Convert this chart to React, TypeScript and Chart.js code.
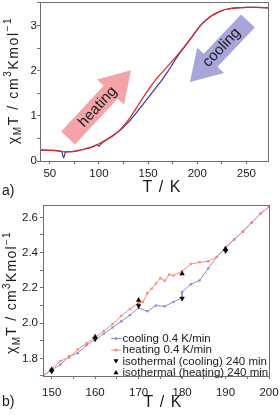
import React, { useEffect, useRef } from "react";
import { Chart, registerables } from "chart.js";

Chart.register(...registerables);

const FONT = '"Liberation Sans", Arial, Helvetica, sans-serif';
const TEXT = "#1a1a1a";
const AXIS = "#707070";
const TICK_SIZE = 11.5;

// ---------- Panel a) : full temperature range ----------
const aHeatT = [40, 45, 50, 55, 60, 63, 65, 70, 75, 80, 85, 90, 95, 100, 105, 110, 115, 120, 125, 130, 135, 140, 145, 150, 155, 160, 165, 170, 175, 180, 185, 190, 195, 200, 205, 210, 215, 220, 225, 230, 240, 250, 260, 272];
const aHeatV = [0.24, 0.24, 0.235, 0.23, 0.22, 0.21, 0.2, 0.205, 0.215, 0.235, 0.26, 0.29, 0.33, 0.38, 0.44, 0.51, 0.58, 0.66, 0.78, 0.91, 1.07, 1.24, 1.41, 1.57, 1.72, 1.86, 1.98, 2.1, 2.22, 2.35, 2.48, 2.62, 2.76, 2.91, 3.04, 3.14, 3.22, 3.28, 3.33, 3.36, 3.39, 3.4, 3.4, 3.39];
const aCoolT = [40, 45, 50, 55, 60, 62, 64, 66, 70, 75, 80, 85, 90, 95, 98, 100, 102, 105, 110, 115, 120, 125, 130, 135, 140, 145, 150, 155, 160, 165, 170, 175, 180, 185, 190, 195, 200, 205, 210, 215, 220, 225, 230, 240, 250, 260, 272];
const aCoolV = [0.24, 0.24, 0.235, 0.235, 0.22, 0.21, 0.07, 0.2, 0.205, 0.215, 0.235, 0.26, 0.29, 0.33, 0.36, 0.33, 0.38, 0.43, 0.5, 0.57, 0.65, 0.75, 0.86, 0.99, 1.12, 1.26, 1.4, 1.54, 1.68, 1.82, 1.98, 2.15, 2.32, 2.47, 2.61, 2.76, 2.91, 3.04, 3.14, 3.22, 3.28, 3.33, 3.36, 3.39, 3.4, 3.4, 3.39];
const aXLabels = [50, 100, 150, 200, 250];
const aYLabels = [0, 1, 2, 3];

// arrow annotations (data coordinates)
const aArrows = [
  { text: "heating", from: [68.5, 0.51], to: [132.6, 2.01], label: [98.7, 1.2], color: "#f4a4a7" },
  { text: "cooling", from: [251.6, 3.1], to: [192.6, 1.75], label: [224.8, 2.51], color: "#a6a6db" },
];

// ---------- Panel b) : zoom 148-200 K ----------
const bCoolT = [200, 198, 196, 194, 192, 190, 188, 186, 184, 182, 180, 180, 178, 176, 174, 172, 170, 168, 166, 164, 162, 160, 158, 156, 154, 152, 150, 148];
const bCoolV = [2.66, 2.62, 2.57, 2.52, 2.475, 2.43, 2.375, 2.31, 2.242, 2.22, 2.177, 2.143, 2.12, 2.095, 2.1, 2.067, 2.086, 2.045, 2.01, 1.975, 1.94, 1.905, 1.875, 1.83, 1.812, 1.765, 1.734, 1.7];
const bHeatT = [148, 150, 152, 154, 156, 158, 160, 162, 164, 166, 168, 170, 171, 172, 173, 174, 175, 176, 177, 178, 180, 182, 184, 186, 188, 190, 192, 194, 196, 198, 200];
const bHeatV = [1.7, 1.74, 1.785, 1.805, 1.85, 1.885, 1.92, 1.955, 1.995, 2.04, 2.08, 2.115, 2.12, 2.17, 2.195, 2.225, 2.255, 2.24, 2.275, 2.27, 2.295, 2.335, 2.345, 2.35, 2.375, 2.425, 2.475, 2.52, 2.57, 2.62, 2.66];
const bIsoT = [150, 160, 170, 180, 190];
const bIsoCoolV = [1.727, 1.91, 2.1, 2.14, 2.41];
const bIsoHeatV = [1.737, 1.922, 2.13, 2.28, 2.42];
const bXLabels = [150, 160, 170, 180, 190, 200];
const bYLabels = [1.8, 2.0, 2.2, 2.4, 2.6];
const bLegend = ["cooling 0.4 K/min", "heating 0.4 K/min", "isothermal (cooling) 240 min", "isothermal (heating) 240 min"];

const COOL_A = "#3535ad";
const HEAT_A = "#e2251d";
const COOL_B = "#958bd0";
const HEAT_B = "#f58b7b";

type Part = { t: string; k?: "sub" | "sup" };
const yTitle: Part[] = [
  { t: "χ" },
  { t: "M", k: "sub" },
  { t: "T / cm" },
  { t: "3", k: "sup" },
  { t: "Kmol" },
  { t: "−1", k: "sup" },
];

const pts = (xs: number[], ys: number[]) => xs.map((x, i) => ({ x, y: ys[i] }));

function drawRich(ctx: CanvasRenderingContext2D, parts: Part[], cx: number, cy: number, rot: number, size: number, spacing: number) {
  ctx.save();
  ctx.translate(cx, cy);
  ctx.rotate(rot);
  ctx.fillStyle = TEXT;
  ctx.textAlign = "left";
  ctx.textBaseline = "alphabetic";
  (ctx as any).letterSpacing = spacing + "px";
  const small = Math.round(size * 0.68);
  const fonts = parts.map((p) => `${p.k ? small : size}px ${FONT}`);
  const widths = parts.map((p, i) => {
    ctx.font = fonts[i];
    return ctx.measureText(p.t).width;
  });
  const total = widths.reduce((a, b) => a + b, 0);
  let x = -total / 2;
  const base = size * 0.36;
  parts.forEach((p, i) => {
    ctx.font = fonts[i];
    const dy = p.k === "sub" ? size * 0.28 : p.k === "sup" ? -size * 0.45 : 0;
    ctx.fillText(p.t, x, base + dy);
    x += widths[i];
  });
  ctx.restore();
}

function drawText(ctx: CanvasRenderingContext2D, t: string, x: number, y: number, size: number, align: CanvasTextAlign, spacing = 0, rot = 0) {
  ctx.save();
  ctx.translate(x, y);
  ctx.rotate(rot);
  ctx.fillStyle = TEXT;
  ctx.font = `${size}px ${FONT}`;
  ctx.textAlign = align;
  ctx.textBaseline = "middle";
  (ctx as any).letterSpacing = spacing + "px";
  ctx.fillText(t, 0, 0);
  ctx.restore();
}

function drawArrow(ctx: CanvasRenderingContext2D, x0: number, y0: number, x1: number, y1: number, shaft: number, headW: number, headL: number, color: string) {
  const dx = x1 - x0, dy = y1 - y0;
  const L = Math.hypot(dx, dy);
  const ux = dx / L, uy = dy / L;
  const px = -uy, py = ux;
  const bx = x1 - ux * headL, by = y1 - uy * headL;
  const s = shaft / 2, h = headW / 2;
  ctx.save();
  ctx.beginPath();
  ctx.moveTo(x0 + px * s, y0 + py * s);
  ctx.lineTo(bx + px * s, by + py * s);
  ctx.lineTo(bx + px * h, by + py * h);
  ctx.lineTo(x1, y1);
  ctx.lineTo(bx - px * h, by - py * h);
  ctx.lineTo(bx - px * s, by - py * s);
  ctx.lineTo(x0 - px * s, y0 - py * s);
  ctx.closePath();
  ctx.fillStyle = color;
  ctx.fill();
  ctx.restore();
}

const framePlugin = {
  id: "frame",
  afterDraw(chart: any) {
    const { ctx, chartArea: a } = chart;
    ctx.save();
    ctx.strokeStyle = AXIS;
    ctx.lineWidth = 1;
    ctx.strokeRect(a.left + 0.5, a.top + 0.5, a.right - a.left, a.bottom - a.top);
    ctx.restore();
  },
};

function xAxis(min: number, max: number, step: number, labels: number[], pad: number, height: number, digits: number) {
  return {
    type: "linear",
    min,
    max,
    afterFit(s: any) {
      s.height = height;
      s.paddingLeft = 0;
      s.paddingRight = 0;
    },
    ticks: {
      stepSize: step,
      autoSkip: false,
      maxRotation: 0,
      minRotation: 0,
      includeBounds: false,
      padding: pad,
      color: TEXT,
      font: { family: FONT, size: TICK_SIZE },
      callback: (v: number) => (labels.some((l) => Math.abs(l - v) < 1e-6) ? v.toFixed(digits) : ""),
    },
    grid: { drawOnChartArea: false, drawTicks: true, tickLength: 3, color: AXIS, tickColor: AXIS },
    border: { display: false },
  };
}

function yAxis(min: number, max: number, step: number, labels: number[], pad: number, width: number, digits: number) {
  return {
    type: "linear",
    min,
    max,
    afterFit(s: any) {
      s.width = width;
      s.paddingTop = 0;
      s.paddingBottom = 0;
    },
    ticks: {
      stepSize: step,
      autoSkip: false,
      includeBounds: false,
      padding: pad,
      color: TEXT,
      font: { family: FONT, size: TICK_SIZE },
      callback: (v: number) => (labels.some((l) => Math.abs(l - v) < 1e-6) ? v.toFixed(digits) : ""),
    },
    grid: { drawOnChartArea: false, drawTicks: true, tickLength: 3, color: AXIS, tickColor: AXIS },
    border: { display: false },
  };
}

function topConfig(): any {
  const decor = {
    id: "decorA",
    beforeDatasetsDraw(chart: any) {
      const { ctx, scales } = chart;
      aArrows.forEach((ar) => {
        const x0 = scales.x.getPixelForValue(ar.from[0]);
        const y0 = scales.y.getPixelForValue(ar.from[1]);
        const x1 = scales.x.getPixelForValue(ar.to[0]);
        const y1 = scales.y.getPixelForValue(ar.to[1]);
        drawArrow(ctx, x0, y0, x1, y1, 19, 37, 30, ar.color);
        let ang = Math.atan2(y1 - y0, x1 - x0);
        if (Math.cos(ang) < 0) ang += Math.PI;
        drawText(ctx, ar.text, scales.x.getPixelForValue(ar.label[0]), scales.y.getPixelForValue(ar.label[1]), 15, "center", 0, ang);
      });
    },
    afterDraw(chart: any) {
      const { ctx, chartArea: a } = chart;
      drawRich(ctx, yTitle, 12.5, (a.top + a.bottom) / 2 - 1, -Math.PI / 2, 14, 1.6);
      drawText(ctx, "T / K", (a.left + a.right) / 2 + 8, a.bottom + 27, 16, "center", 1);
      drawText(ctx, "a)", 2, a.bottom + 30, 14, "left");
    },
  };
  return {
    type: "line",
    data: {
      datasets: [
        { label: "heating", data: pts(aHeatT, aHeatV), borderColor: HEAT_A, borderWidth: 1.2, pointRadius: 0, cubicInterpolationMode: "monotone", order: 0 },
        { label: "cooling", data: pts(aCoolT, aCoolV), borderColor: COOL_A, borderWidth: 1.2, pointRadius: 0, cubicInterpolationMode: "monotone", order: 1 },
      ],
    },
    options: {
      animation: false,
      responsive: false,
      devicePixelRatio: 1,
      layout: { padding: { top: 2, right: 12, left: 0, bottom: 0 } },
      plugins: { legend: { display: false }, tooltip: { enabled: false } },
      scales: {
        x: xAxis(40, 272, 25, aXLabels, 2.5, 39, 0),
        y: yAxis(0, 3.52, 0.5, aYLabels, 0, 40, 0),
      },
    },
    plugins: [framePlugin, decor],
  };
}

function bottomConfig(): any {
  const decor = {
    id: "decorB",
    afterDraw(chart: any) {
      const { ctx, chartArea: a } = chart;
      drawRich(ctx, yTitle, 11, (a.top + a.bottom) / 2 + 2, -Math.PI / 2, 14, 1.3);
      drawText(ctx, "T / K", (a.left + a.right) / 2 + 7, a.bottom + 27, 16, "center", 1);
      drawText(ctx, "b)", 2, a.bottom + 26, 14, "left");
      // legend
      const rows = [138, 149.5, 161, 172.5];
      const lx0 = 111, lx1 = 121, mx = 116, tx = 122.5;
      ctx.save();
      rows.forEach((ry, i) => {
        if (i < 2) {
          const col = i === 0 ? COOL_B : HEAT_B;
          ctx.strokeStyle = col;
          ctx.lineWidth = 1;
          ctx.beginPath();
          ctx.moveTo(lx0, ry + 0.5);
          ctx.lineTo(lx1, ry + 0.5);
          ctx.stroke();
          ctx.fillStyle = col;
          ctx.beginPath();
          ctx.arc(mx, ry + 0.5, 1.5, 0, Math.PI * 2);
          ctx.fill();
        } else {
          const r = 2.5;
          const up = i === 3;
          ctx.fillStyle = "#000";
          ctx.beginPath();
          if (up) {
            ctx.moveTo(mx, ry - r);
            ctx.lineTo(mx + r, ry + r * 0.7);
            ctx.lineTo(mx - r, ry + r * 0.7);
          } else {
            ctx.moveTo(mx, ry + r);
            ctx.lineTo(mx + r, ry - r * 0.7);
            ctx.lineTo(mx - r, ry - r * 0.7);
          }
          ctx.closePath();
          ctx.fill();
        }
        drawText(ctx, bLegend[i], tx, ry + 0.5, 11.5, "left");
      });
      ctx.restore();
    },
  };
  return {
    type: "line",
    data: {
      datasets: [
        { label: bLegend[2], data: pts(bIsoT, bIsoCoolV), showLine: false, pointStyle: "triangle", rotation: 180, pointRadius: 2.7, pointBackgroundColor: "#000", pointBorderColor: "#000", pointBorderWidth: 0.5, order: 0 },
        { label: bLegend[3], data: pts(bIsoT, bIsoHeatV), showLine: false, pointStyle: "triangle", rotation: 0, pointRadius: 2.7, pointBackgroundColor: "#000", pointBorderColor: "#000", pointBorderWidth: 0.5, order: 1 },
        { label: bLegend[1], data: pts(bHeatT, bHeatV), borderColor: HEAT_B, borderWidth: 1, pointRadius: 1.3, pointBackgroundColor: HEAT_B, pointBorderWidth: 0, tension: 0, order: 2 },
        { label: bLegend[0], data: pts(bCoolT, bCoolV), borderColor: COOL_B, borderWidth: 1, pointRadius: 1.3, pointBackgroundColor: COOL_B, pointBorderWidth: 0, tension: 0, order: 3 },
      ],
    },
    options: {
      animation: false,
      responsive: false,
      devicePixelRatio: 1,
      layout: { padding: { top: 5, right: 11, left: 0, bottom: 0 } },
      plugins: { legend: { display: false }, tooltip: { enabled: false } },
      scales: {
        x: xAxis(148, 200, 5, bXLabels, 6.5, 39, 0),
        y: yAxis(1.7, 2.67, 0.1, bYLabels, 2, 43, 1),
      },
    },
    plugins: [framePlugin, decor],
  };
}

export default function App() {
  const topRef = useRef<HTMLCanvasElement>(null);
  const botRef = useRef<HTMLCanvasElement>(null);
  useEffect(() => {
    const c1 = new Chart(topRef.current as HTMLCanvasElement, topConfig());
    const c2 = new Chart(botRef.current as HTMLCanvasElement, bottomConfig());
    return () => {
      c1.destroy();
      c2.destroy();
    };
  }, []);
  return (
    <div style={{ position: "absolute", left: 0, top: 0, width: 280, height: 415, background: "#fff", overflow: "hidden" }}>
      <canvas ref={topRef} width={280} height={200} style={{ position: "absolute", left: 0, top: 0 }} />
      <canvas ref={botRef} width={280} height={215} style={{ position: "absolute", left: 0, top: 200 }} />
    </div>
  );
}
